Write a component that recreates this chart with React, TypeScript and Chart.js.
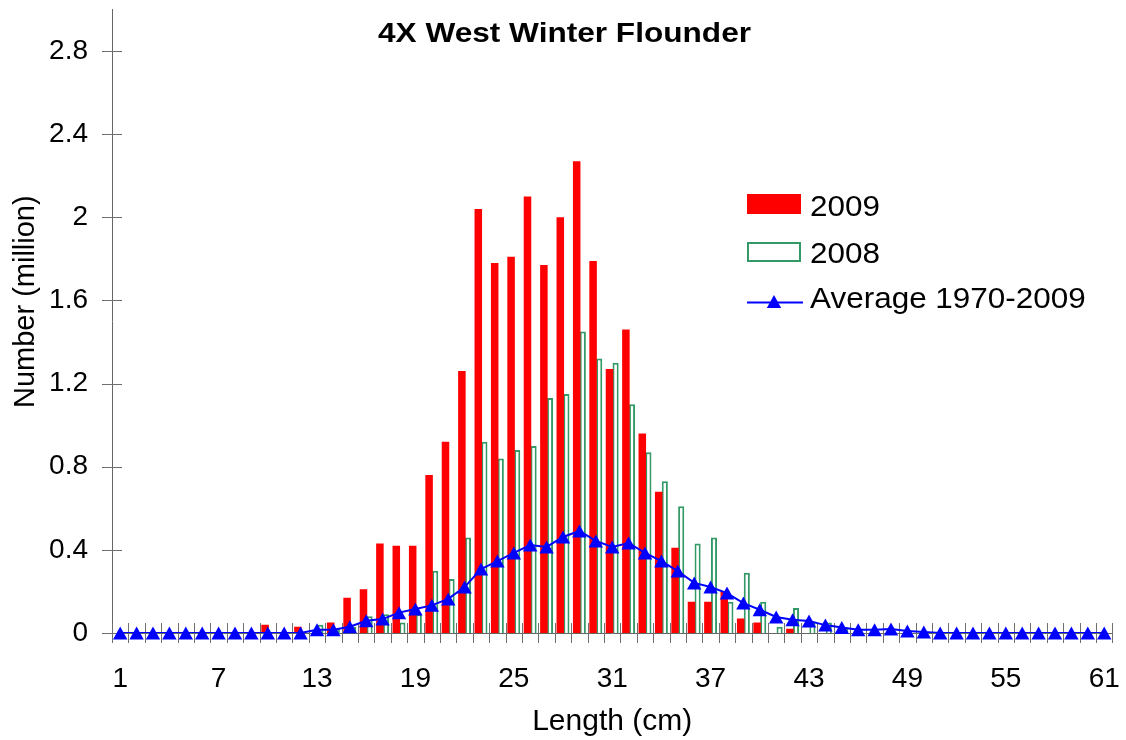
import React, { useEffect, useRef } from 'react';
import { Chart, registerables } from 'chart.js';

Chart.register(...registerables);

const FONT = '"Liberation Sans", Arial, Helvetica, sans-serif';

const chartTitle = '4X West Winter Flounder';
const xAxisTitle = 'Length (cm)';
const yAxisTitle = 'Number (million)';

const lengths = [
  '1', '2', '3', '4', '5', '6', '7', '8', '9', '10',
  '11', '12', '13', '14', '15', '16', '17', '18', '19', '20',
  '21', '22', '23', '24', '25', '26', '27', '28', '29', '30',
  '31', '32', '33', '34', '35', '36', '37', '38', '39', '40',
  '41', '42', '43', '44', '45', '46', '47', '48', '49', '50',
  '51', '52', '53', '54', '55', '56', '57', '58', '59', '60', '61',
];

const xTickLabels = ['1', '7', '13', '19', '25', '31', '37', '43', '49', '55', '61'];
const yTicks = [0, 0.4, 0.8, 1.2, 1.6, 2, 2.4, 2.8];

const series2009Label = '2009';
const series2008Label = '2008';
const seriesAvgLabel = 'Average 1970-2009';

const n2009 = [
  0, 0, 0, 0, 0, 0, 0, 0, 0,
  0.04, 0, 0.03, 0, 0.05, 0.17, 0.21, 0.43, 0.42, 0.42,
  0.76, 0.92, 1.26, 2.04, 1.78, 1.81, 2.10, 1.77, 2.00, 2.27,
  1.79, 1.27, 1.46, 0.96, 0.68, 0.41, 0.15, 0.15, 0.20, 0.07,
  0.05, 0, 0.02, 0, 0, 0, 0, 0, 0, 0,
  0, 0, 0, 0, 0, 0, 0, 0, 0, 0,
  0, 0,
];

const n2008 = [
  0, 0, 0, 0, 0, 0, 0, 0, 0,
  0, 0, 0, 0.04, 0.02, 0.03, 0.08, 0.09, 0.05, 0.09,
  0.30, 0.26, 0.46, 0.92, 0.84, 0.88, 0.90, 1.13, 1.15, 1.45,
  1.32, 1.30, 1.10, 0.87, 0.73, 0.61, 0.43, 0.46, 0.15, 0.29,
  0.15, 0.03, 0.12, 0.05, 0.05, 0.02, 0, 0, 0, 0,
  0, 0, 0, 0, 0, 0, 0, 0, 0, 0,
  0, 0,
];

const avg1970_2009 = [
  0, 0, 0, 0, 0, 0, 0, 0, 0,
  0, 0, 0, 0.016, 0.016, 0.03, 0.059, 0.067, 0.098, 0.115,
  0.133, 0.164, 0.221, 0.308, 0.346, 0.385, 0.423, 0.414, 0.462, 0.491,
  0.443, 0.414, 0.433, 0.385, 0.346, 0.298, 0.241, 0.221, 0.192, 0.144,
  0.112, 0.077, 0.064, 0.058, 0.038, 0.026, 0.016, 0.016, 0.019, 0.010,
  0.005, 0, 0, 0, 0, 0, 0, 0, 0, 0,
  0, 0,
];

const RED = '#ff0000';
const GREEN = '#339966';
const BLUE = '#0000ff';

function fmtY(v: number): string {
  return String(Math.round(v * 10) / 10);
}

function drawTri(ctx: CanvasRenderingContext2D, cx: number, cy: number) {
  ctx.beginPath();
  ctx.moveTo(cx, cy - 6.5);
  ctx.lineTo(cx + 7.2, cy + 6.5);
  ctx.lineTo(cx - 7.2, cy + 6.5);
  ctx.closePath();
  ctx.fill();
}

export default function App() {
  const ref = useRef<HTMLCanvasElement | null>(null);

  useEffect(() => {
    if (!ref.current) return;

    const decor = {
      id: 'decor',
      beforeDatasetsDraw(chart: any) {
        const ctx = chart.ctx as CanvasRenderingContext2D;
        const xs = chart.scales.x;
        const ys = chart.scales.y;
        const n = chart.data.labels.length;
        const w = (xs.right - xs.left) / n;
        ctx.save();
        ctx.strokeStyle = '#6f6f6f';
        ctx.lineWidth = 1;
        ctx.beginPath();
        for (let i = 0; i <= n; i++) {
          const px = Math.round(xs.left + i * w) + 0.5;
          ctx.moveTo(px, ys.bottom - 10);
          ctx.lineTo(px, ys.bottom + 10);
        }
        for (const t of ys.ticks) {
          const py = Math.round(ys.getPixelForValue(t.value)) + 0.5;
          ctx.moveTo(xs.left - 10, py);
          ctx.lineTo(xs.left + 10, py);
        }
        ctx.stroke();
        ctx.restore();
      },
      afterDatasetsDraw(chart: any) {
        // triangle markers of the average series, at the points placed by the line controller
        const ctx = chart.ctx as CanvasRenderingContext2D;
        const meta = chart.getDatasetMeta(2);
        ctx.save();
        ctx.fillStyle = chart.data.datasets[2].borderColor;
        for (const el of meta.data) {
          drawTri(ctx, el.x, el.y);
        }
        ctx.restore();
      },
      afterDraw(chart: any) {
        const ctx = chart.ctx as CanvasRenderingContext2D;
        const ds = chart.data.datasets;
        ctx.save();
        ctx.fillStyle = '#000';

        // title
        ctx.save();
        ctx.font = `bold 27px ${FONT}`;
        ctx.textAlign = 'center';
        ctx.textBaseline = 'alphabetic';
        ctx.translate(564.5, 41.5);
        ctx.scale(1.17, 1);
        ctx.fillText(chartTitle, 0, 0);
        ctx.restore();

        // y axis title
        ctx.save();
        ctx.font = `29px ${FONT}`;
        ctx.textAlign = 'center';
        ctx.textBaseline = 'alphabetic';
        ctx.translate(33.5, 301.7);
        ctx.rotate(-Math.PI / 2);
        ctx.fillText(yAxisTitle, 0, 0);
        ctx.restore();

        // legend
        ctx.fillStyle = ds[0].backgroundColor;
        ctx.fillRect(747, 194, 54, 20);
        ctx.strokeStyle = ds[1].borderColor;
        ctx.lineWidth = 2;
        ctx.strokeRect(748, 243, 52, 18);
        ctx.strokeStyle = ds[2].borderColor;
        ctx.beginPath();
        ctx.moveTo(747, 302.5);
        ctx.lineTo(803, 302.5);
        ctx.stroke();
        ctx.fillStyle = ds[2].borderColor;
        drawTri(ctx, 774, 301.5);

        const texts = [ds[0].label, ds[1].label, ds[2].label];
        const bases = [216, 262.7, 308.3];
        ctx.fillStyle = '#000';
        ctx.font = `29px ${FONT}`;
        ctx.textAlign = 'left';
        ctx.textBaseline = 'alphabetic';
        texts.forEach((t: string, i: number) => {
          ctx.save();
          ctx.translate(810, bases[i]);
          ctx.scale(1.085, 1);
          ctx.fillText(t, 0, 0);
          ctx.restore();
        });
        ctx.restore();
      },
    };

    const chart = new Chart(ref.current, {
      type: 'bar',
      data: {
        labels: lengths,
        datasets: [
          {
            type: 'bar',
            label: series2009Label,
            data: n2009,
            backgroundColor: RED,
            borderWidth: 0,
            categoryPercentage: 0.66,
            barPercentage: 1.39,
            order: 0,
          } as any,
          {
            type: 'bar',
            label: series2008Label,
            data: n2008,
            backgroundColor: '#ffffff',
            borderColor: GREEN,
            borderWidth: 2,
            categoryPercentage: 0.83,
            barPercentage: 0.9,
            order: 0,
          } as any,
          {
            type: 'line',
            label: seriesAvgLabel,
            data: avg1970_2009,
            borderColor: BLUE,
            backgroundColor: BLUE,
            borderWidth: 2,
            tension: 0,
            pointRadius: 0,
            pointHoverRadius: 0,
            order: -1,
          } as any,
        ],
      },
      options: {
        responsive: false,
        animation: false,
        events: [],
        layout: { padding: { left: 0, right: 13.6, top: 9.4, bottom: 0 } },
        plugins: {
          legend: { display: false },
          title: { display: false },
          tooltip: { enabled: false },
        },
        scales: {
          x: {
            type: 'category',
            offset: true,
            grid: { display: false, drawTicks: false },
            border: { display: true, color: '#666666', width: 1 },
            ticks: {
              autoSkip: false,
              maxRotation: 0,
              minRotation: 0,
              padding: 29,
              color: '#000',
              font: { family: FONT, size: 28 },
              callback(this: any, v: any) {
                const l = this.getLabelForValue(v);
                return xTickLabels.includes(l) ? l : '';
              },
            },
            title: {
              display: true,
              text: xAxisTitle,
              color: '#000',
              font: { family: FONT, size: 30 },
              padding: { top: 0, bottom: 0 },
            },
            afterFit(s: any) {
              s.height = 107;
              s.paddingLeft = 0;
              s.paddingRight = 0;
            },
          } as any,
          y: {
            min: 0,
            max: 3,
            grid: { display: false, drawTicks: false },
            border: { display: true, color: '#666666', width: 1 },
            ticks: {
              padding: 24,
              color: '#000',
              font: { family: FONT, size: 28 },
              callback: (v: any) => fmtY(Number(v)),
            },
            afterBuildTicks(s: any) {
              s.ticks = yTicks.map((v) => ({ value: v }));
            },
            afterFit(s: any) {
              s.width = 112;
              s.paddingTop = 0;
              s.paddingBottom = 0;
            },
          } as any,
        },
      },
      plugins: [decor],
    });

    return () => chart.destroy();
  }, []);

  return (
    <div style={{ position: 'absolute', left: 0, top: 0, width: 1126, height: 740, background: '#ffffff' }}>
      <canvas ref={ref} width={1126} height={740} style={{ display: 'block' }} />
    </div>
  );
}
